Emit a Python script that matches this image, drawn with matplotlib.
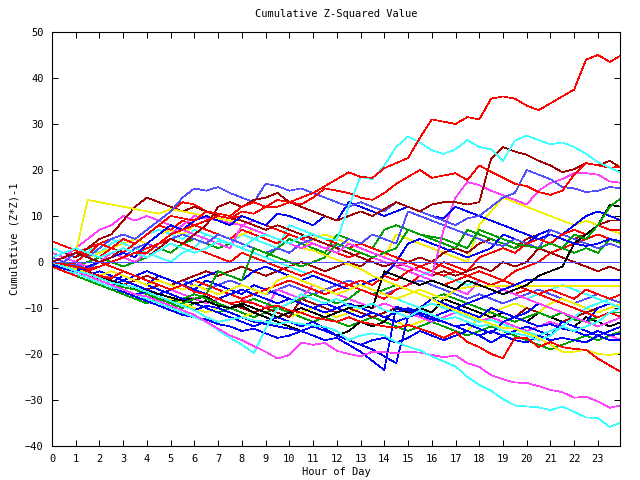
import numpy as np
import matplotlib
matplotlib.use("Agg")
from matplotlib import pyplot as plt

# half-hour sample points, hours 0..24
hours = np.arange(49) * 0.5

s_red_top = [0, -0.5, -1, -1.5, -1, 0, 1, 2, 2, 4, 6, 7, 8, 9, 10, 9.5, 11, 10.5, 12, 12, 13, 14, 15, 16.5, 18,
             19.5, 18.5, 18.3, 20.4, 21.5, 22.6, 27, 31, 30.5, 30, 31.5, 31, 35.5, 36, 35.5, 34, 33, 34.5, 36, 37.5, 44, 45, 43.5, 45]
s_cyan_high = [1, 2, 3, 2, 1, 2, 3, 2, 1, 2.5, 4, 3, 2, 3, 4.5, 4, 3, 5, 6, 5, 4, 5.5, 6, 5, 4.8,
               12, 18.5, 18, 21, 25, 27.3, 26, 24.3, 23.5, 24.5, 26.5, 25, 24.5, 22, 26.4, 27.5, 26.5, 25.6, 26, 25, 23.5, 21.7, 20.5, 19.3]
s_darkred_high = [0, 1, 2, 1, 0, 1, 3, 2, 1, 3, 5, 4, 6, 8, 12, 13, 12, 13.5, 14, 15, 13, 12, 11, 10, 9,
                  10, 11, 10, 11.5, 13, 12, 11, 12.5, 13, 13, 12.5, 13, 22.5, 25, 24, 23.3, 22, 21, 19.5, 20.2, 21.5, 21, 22, 20.4]
s_red_20 = [4.5, 3.5, 2.5, 1.5, 4, 3, 5, 4, 6, 8, 10, 9.5, 9, 11, 10.5, 10, 12, 13, 12, 13.5, 13, 12.5, 14, 16, 15.5,
            15, 14, 13.5, 15, 17, 18.5, 20, 18.3, 18.8, 19.3, 17.8, 21, 19.6, 18.3, 17, 16.5, 15.2, 14.6, 15.5, 19, 21.5, 21, 20.5, 20.7]
s_red_low = [0, -1, -2, -2.5, -3, -3.5, -2, -3, -4, -5, -6, -5, -6.5, -7, -8, -9, -8.5, -9, -10, -9.5, -10.5, -11, -12, -12.5, -13,
             -12, -13, -13.5, -14, -14.3, -13.7, -14.5, -15.4, -16.5, -15.2, -17.4, -18.5, -20, -20.9, -16.5, -16.5, -18.5, -17.4, -18.5, -18.9, -19.1, -21, -22.5, -24]
s_magenta_low = [0, -1, -2, -3, -4, -5, -6, -7, -7.5, -8.5, -9.5, -10.5, -11.5, -13, -14.5, -16, -17, -18.3, -19.5, -21, -20.2, -17.5, -18, -17.6, -19.3,
                 -20, -20.5, -19.5, -19.6, -19.8, -19.5, -19.7, -20.2, -20.7, -20.3, -22, -22.8, -24.6, -25.5, -26.2, -26.3, -27, -27.8, -28.3, -29.5, -29.3, -30.3, -31.7, -31.1]
s_cyan_low = [0, -1, -2, -2.5, -3.5, -4.5, -5, -5.5, -6.5, -7.5, -8.5, -9.5, -10.5, -12, -13, -12.5, -12, -12.7, -13, -13.5, -13, -13.5, -13.8, -14.1, -15,
              -17, -16, -15.5, -16, -17.4, -18.4, -19.2, -20.5, -21.6, -22.7, -25, -26.7, -28, -29.8, -31.2, -31.4, -31.6, -32.2, -31.4, -32.6, -33.8, -33.9, -35.9, -34.8]
s_cyan_dip = [0, -1.5, -2.5, -3.5, -4.5, -5.5, -6, -7, -8, -9, -10, -11, -12, -13, -14.8, -16.5, -18, -19.8, -14.5, -10, -9, -7, -8, -9, -8,
              -9.5, -10, -9, -10.5, -11, -12, -10.5, -11.5, -12.5, -12, -13, -14, -13.5, -15, -15.5, -16, -17, -16, -14, -15, -14, -13, -11, -10]
s_yellow_peak = [0, 1, 2, 13.5, 13, 12.5, 12, 11.5, 11, 10.5, 11.5, 11, 10.5, 10, 9.5, 9, 8, 7, 6, 5, 4, 3, 2.5, 1.5, 0.5,
                 -0.5, -1.5, -3, -4, -5, -6, -7, -8, -9.5, -10.5, -11.5, -12.5, -13.5, -14.3, -14.5, -15.5, -16.5, -18, -19.5, -19.5, -19.1, -20, -20.2, -19.8]
s_yellow_flat = [0, -1, -1.5, -2.5, -3, -2, -3, -4, -5, -4, -5, -6, -5, -6, -7, -6, -5, -6, -7, -4, -3, -4, -5, -6, -7,
                 -6, -5, -6, -7, -8, -7, -6, -7, -8, -6, -5.5, -5.2, -5.2, -5.2, -5.2, -5.2, -5.2, -5.2, -5.2, -5.2, -5.2, -5.2, -5.2, -5.2]
s_black_a = [-0.7, -1.4, -2.1, -2.8, -3.5, -4.2, -4.9, -5.6, -6.3, -7, -7.7, -8.4, -9, -8.5, -9.5, -10, -9, -10, -11, -12, -11, -10, -11, -12, -11,
             -10, -9.5, -10, -2, -3, -4, -5, -4, -5, -6, -4, -5, -6, -7, -6, -5, -3, -2, -1, 4, 6, 8, 12.4, 12]
s_black_b = [0, -1, -2, -3, -4, -5, -6, -7, -7.5, -8, -8.5, -8, -8, -7.5, -9, -10, -9.5, -11, -12, -13, -14, -15, -14, -15, -16,
             -15, -13, -14, -13, -10, -11, -10, -11, -8, -9, -10, -11, -12, -11, -12, -13, -11, -12, -13, -14, -12, -13, -14, -13]
s_lblue_a = [1, 0, 2, 1, 3, 5, 6, 5, 7, 9, 11, 14, 16, 15.5, 16.3, 15, 14, 13, 17, 16.5, 15.5, 16, 15, 14, 13,
             12, 13, 12, 11, 13, 12, 11, 10, 9, 8, 9.5, 10, 12, 14, 15, 20, 19, 18, 16.3, 16, 15.2, 15.5, 16.3, 16]
s_lblue_b = [0, -1, -0.5, -1.5, 0, 2, 1, 3, 4, 3, 5, 6, 5, 4, 6, 5, 4, 3, 2, 3, 2, 4, 5, 4, 3,
             5, 4, 6, 5, 4, 11, 10, 9, 8, 7, 6, 5, 4, 3.5, 5, 4, 3, 7, 6, 5, 4, 3, 4, 3]
s_blue_a = [-0.5, -1.5, -2, -1, 0, 1, 2, 1, 4, 6, 8, 7, 9, 10, 9, 8, 10, 9, 8, 10.5, 10, 9, 8, 10, 9,
            13, 12, 11, 10, 11, 12, 11, 10, 9.5, 12, 11, 10, 9, 8, 7, 6, 5, 6, 5, 4, 3.5, 4, 5, 4.5]
s_blue_b = [0, -1, -2, -3, -4, -5, -6, -7, -6.5, -7.5, -8.5, -9.5, -10.5, -9.5, -10, -11, -12, -13, -13.5, -14, -14.5, -15, -14, -15, -16,
            -17, -18, -19, -20.5, -22, -12, -11, -12, -13, -14, -15, -16, -15, -16, -17, -17.5, -16, -17, -16.5, -17, -17.5, -16, -17, -17]
s_blue_c = [-0.5, -1.5, -2.5, -3.5, -4.5, -5.5, -6.5, -7.5, -8.5, -9.5, -10.5, -11.5, -12, -12.5, -13.5, -14, -15, -14.5, -15.5, -16.5, -16, -15, -16, -17, -16.5,
            -18, -19.5, -21.5, -23.5, -9.7, -10.5, -11.5, -12.5, -13, -14, -13.5, -14.5, -15.5, -13, -12, -13, -14, -13.5, -14.5, -15, -16, -15, -16, -15.5]
s_blue_d = [1, 0, -1, -2, -3, -4, -5, -4, -5, -6, -7, -8, -9, -10, -11, -12, -13, -14, -13, -12, -13, -14, -13, -14.5, -16,
            -17, -18, -17, -16.5, -17.5, -16.5, -15, -16, -17, -16, -15, -16, -17.5, -16, -15, -14, -15, -16, -13, -14, -15, -16, -15, -14]
s_blue_e = [0, -1, -1.5, -2.5, -3.5, -4.5, -3, -4, -5, -3, -4, -5, -6, -4, -5, -6, -7, -5, -6, -7, -8, -9, -10, -9, -10,
            -11, -12, -11, -12, -13, -12, -10, -8, -9, -10, -11, -12, -10, -11, -12, -11, -9, -10, -11, -12, -13, -10, -9, -10]
s_blue_f = [0, -1, -2, -3, -2, -3, -4, -3, -2, -3, -4, -5, -4, -3, -2, -3, -4, -2, -1, -2, -3, -4, -3, -4, -5,
            -6, -5, -4, -3, 0, 4, 5, 4, 3, 2, 1, 2, 3, 6, 5, 4, 6, 7, 6, 8, 10, 11, 10, 9]
s_blue_flat = [-0.5, -1, -2, -3, -4, -5, -4, -5, -6, -7, -6, -5, -6, -7, -8, -7, -6, -7, -8, -9, -8, -9, -10, -11, -10,
               -9, -10, -11, -12, -11, -10, -11, -12, -11, -10, -9, -8, -7, -6, -5, -3.9, -3.9, -3.9, -3.9, -3.9, -3.9, -3.9, -3.9, -3.9]
s_green_a = [0, -1, -2, -3, -4, -5, -6, -7, -8, -9, -10, -9, -8, -7, -2, -3, -4, 3, 2, 1, 0, -1, 0, 1, 4,
             3, 2, 1, 2, 3, 7, 6, 5.5, 5, 4, 3, 7, 6, 5, 4, 3.5, 3, 4, 3, 6, 5, 8, 12, 14]
s_green_b = [0, -1, -2, -3, -3.5, -4.5, -5.5, -6, -7, -8, -9, -8, -7, -8, -9, -10, -9, -8, -9, -10, -9, -8, -7, -8, -9,
             -8, -6, -7, -6, -5, -6, -7, -8, -7, -8, -9, -10, -11, -12, -13, -12, -11, -12, -11, -12.5, -13, -12, -11, -11]
s_green_c = [1, 0, -1, 0, 1, 0, -1, 0, 1, 3, 2, 4, 5, 4, 3, 4, 3, 2, 1, 3, 5, 4, 3, 2, 6,
             5, 4, 3, 7, 8, 7, 6, 5, 4, 3, 7, 6, 5, 4, 3, 4, 5, 4, 3, 2, 3, 2, 5, 4]
s_green_d = [-1, -2, -3, -4, -5, -6, -7, -8, -9, -8, -9, -10, -9, -10, -11, -10, -11, -12, -11, -10, -11, -12, -13, -12, -13,
             -14, -13, -12, -13, -14, -15, -14, -13, -14, -15, -16, -15, -14, -15, -16, -17, -18, -19, -18, -17, -16, -17, -16, -15]
s_magenta_a = [0, 1, 0, -1, 0, 2, 1, 0, 2, 4, 6, 8, 10, 9.5, 9, 8.5, 8, 7, 6, 5, 4, 3, 4, 3, 2,
               4, 3, 2, 1, 0, -1, -2, -3, 7, 14, 17.4, 16.7, 15.5, 14.5, 13.5, 12.5, 15.5, 17.2, 18, 19.3, 19.3, 19, 17.5, 17.2]
s_magenta_b = [2, 1, 3, 5, 7, 8, 10, 9, 10, 9, 8, 7, 6, 5, 4, 3, 8, 9, 8, 7, 6, 5, 4, 3, 4,
               3, 2, 1, 0, -1, -2, -3, -4, -5, -6, -7, -4, -5, -6, -7, -8, -9, -10, -11, -12, -13, -14, -13, -12]
s_magenta_c = [0, -1, -2, -3, -4, -3, -4, -5, -6, -7, -6, -7, -8, -9, -8, -7, -8, -9, -10, -6, -7, -8, -5, -6, -7,
               -8, -9, -10, -9, -10, -11, -12, -13, -12, -11, -12, -13, -12, -13, -14, -15, -14, -13, -14, -15, -16, -15, -16, -17]
s_cyan_mid = [3, 2, 1, 2, 4, 5, 4, 3, 2, 1, 0, 2, 3, 6, 5, 4, 3, 2, 1, 0, -1, -2, -3, -4, -5,
              -6, -5, -6, -7, -8, -9, -10, -9, -10, -11, -12, -13, -12.6, -13.5, -14.5, -15.2, -16, -15, -14, -12, -10, -9, -8, -7]
s_cyan_up = [0, 1, 2, 3, 2, 4, 5, 4, 6, 7, 6, 5, 7, 6, 5, 4, 6, 5, 4, 3, 8, 7, 6, 5, 4,
             3, 2, 1, 0, -1, -2, -3, -2, -3, -4, -5, -4, -5, -6, -7, -8, -7, -6, -5, -6, -7, -8, -9, -10]
s_yellow_mid = [0, -1, -2, -3, -4, -5, -6, -7, -8, -9, -8, -9, -10, -11, -10, -11, -12, -11, -10, -11, -12, -11, -10, -11, -12,
                -11, -10, -11, -12, -13, -14, -13, -12, -13, -14, -15, -12, -11, -10, -9, -10, -11, -9, -8, -9, -10, -11, -10, -9]
s_yellow_up = [0, 1, 2, 1, 2, 3, 4, 5, 4, 6, 7, 6, 8, 7, 6, 5, 6, 7, 6, 5, 4, 3, 5, 6, 5,
               4, 3, 2, 1, 6, 5, 4, 3, 2, 1, 0, 8, 11, 14, 13, 12, 11, 10, 9, 8, 9, 8, 7, 6]
s_darkred_b = [0, -1, -2, -3, -2, -3, -4, -5, -6, -5, -6, -7, -8, -9, -8, -9, -10, -11, -10, -11, -12, -8, -9, -10, -11,
               -10, -11, -12, -11, -10, -11, -12, -13, -12, -11, -12, -13, -12, -11, -12, -10, -11, -12, -13, -12, -11, -10, -9, -10]
s_darkred_c = [1, 2, 1, 3, 5, 6, 9, 12, 14, 13, 12, 11, 12, 11, 10, 9.5, 9, 8, 7, 8, 7, 6, 5, 4, 3,
               2, 1, 0, -1, 0, -1, -2, -3, -2, -3, -2, -1, -2, 0, -1, 0, 3, 2, 1, 0, -1, -2, -1, -2]
s_darkred_d = [0, -1, -1.5, -2, -3, -4, -5, -4, -3, -4, -5, -4, -3, -2, -3, -2, -1, -2, -3, -2, -1, 0, -1, -2, -1,
               0, -1, 1, 2, 1, 0, 1, 0, 2, 3, 2, 4, 5, 4, 3, 5, 6, 7, 6, 5, 6, 8, 9, 9]
s_red_mid = [0, -1, 0, 2, 1, 3, 2, 4, 6, 8, 7, 9, 8, 7, 6, 5, 7, 6, 5, 4, 6, 5, 4, 3, 2,
             1, 2, 1, 0, -1, 0, -1, -2, -3, -2, -3, -4, -5, -6, -7, -6, -7, -8, -9, -10, -11, -12, -11, -12]
s_red_b = [2, 1, 0, -1, 0, -1, -2, -3, -4, -5, -6, -5, -4, -5, -6, -7, -8, -7, -6, -5, -4, -5, -6, -7, -6,
           -5, -6, -7, -8, -6, -5, -3, -4, -5, -4, -3, -2, -3, -4, -2, -1, 0, 2, 3, 4, 5, 6, 5, 4]
s_red_c = [0, 1, 2, 3, 4, 5, 6, 5, 7, 9, 11, 13, 12.5, 11, 10, 9.5, 10, 9, 8, 7, 6, 5, 6, 5, 4,
           3, 4, 3, 2, 1, 0, -1, 0, -1, -2, -3, -4, -5, -4, -5, -6, -7, -6, -7, -8, -6, -7, -8, -7]
s_red_d = [-1, -2, -3, -2, -1, 0, 1, 2, 3, 4, 5, 4, 3, 2, 1, 0, 2, 1, 0, -1, -2, -3, -2, -3, -4,
           -5, -4, -5, -3, -4, -2, -1, -2, 0, -1, -2, 1, 2, 3, 2, 4, 5, 4, 6, 7, 6, 8, 7, 7]
s_lblue_c = [0, -0.5, -1.5, -2, -3, -2, -3, -4, -3, -4, -5, -4, -5, -6, -5, -4, -5, -6, -7, -6, -5, -6, -7, -6, -5,
             -4, -5, -6, -7, -6, -5, -4, -5, -6, -7, -8, -7, -8, -9, -8, -7, -6, -7, -8, -9, -8, -7, -8, -9]
s_zero = [0] * 49

RED, DRED, GRN, BLU, LBLU = '#ff0000', '#a00000', '#00a000', '#0000ff', '#5050ff'
MAG, CYN, YEL, BLK = '#ff40ff', '#40ffff', '#f0f000', '#000000'

series = [
    (s_green_d, GRN), (s_lblue_c, LBLU), (s_yellow_mid, YEL), (s_darkred_b, DRED), (s_magenta_c, MAG),
    (s_black_b, BLK), (s_green_b, GRN), (s_blue_e, BLU), (s_cyan_up, CYN), (s_red_b, RED),
    (s_blue_d, BLU), (s_yellow_up, YEL), (s_darkred_d, DRED), (s_green_c, GRN), (s_cyan_mid, CYN),
    (s_red_mid, RED), (s_magenta_b, MAG), (s_blue_f, BLU), (s_red_c, RED), (s_lblue_b, LBLU),
    (s_red_d, RED), (s_darkred_c, DRED), (s_yellow_flat, YEL), (s_blue_flat, BLU), (s_black_a, BLK),
    (s_green_a, GRN), (s_blue_c, BLU), (s_blue_b, BLU), (s_cyan_dip, CYN), (s_yellow_peak, YEL),
    (s_magenta_a, MAG), (s_blue_a, BLU), (s_lblue_a, LBLU), (s_red_low, RED), (s_magenta_low, MAG),
    (s_cyan_low, CYN), (s_darkred_high, DRED), (s_red_20, RED), (s_cyan_high, CYN), (s_red_top, RED),
    (s_zero, LBLU),
]

plt.rcParams['font.family'] = ['DejaVu Sans Mono']
plt.rcParams['font.size'] = 7.5

fig = plt.figure(figsize=(6.4, 4.8), dpi=100)
ax = fig.add_axes([52 / 640, 1 - 446 / 480, 568 / 640, 414 / 480])

for vals, col in series:
    ax.plot(hours, vals, color=col, linewidth=0.5, antialiased=False)

ax.set_xlim(0, 23.93)
ax.set_ylim(-40, 50)
ax.set_xticks(range(24))
ax.set_yticks(range(-40, 51, 10))
ax.tick_params(direction='in', length=4, width=0.72, top=True, right=True, pad=6, colors='black')
for sp in ax.spines.values():
    sp.set_linewidth(0.8)

ax.set_title('Cumulative Z-Squared Value', fontsize=7.5, pad=11)
ax.set_xlabel('Hour of Day', labelpad=2)
ax.set_ylabel('Cumulative (Z*Z)-1', labelpad=4)

fig.savefig('out.png', dpi=100)
